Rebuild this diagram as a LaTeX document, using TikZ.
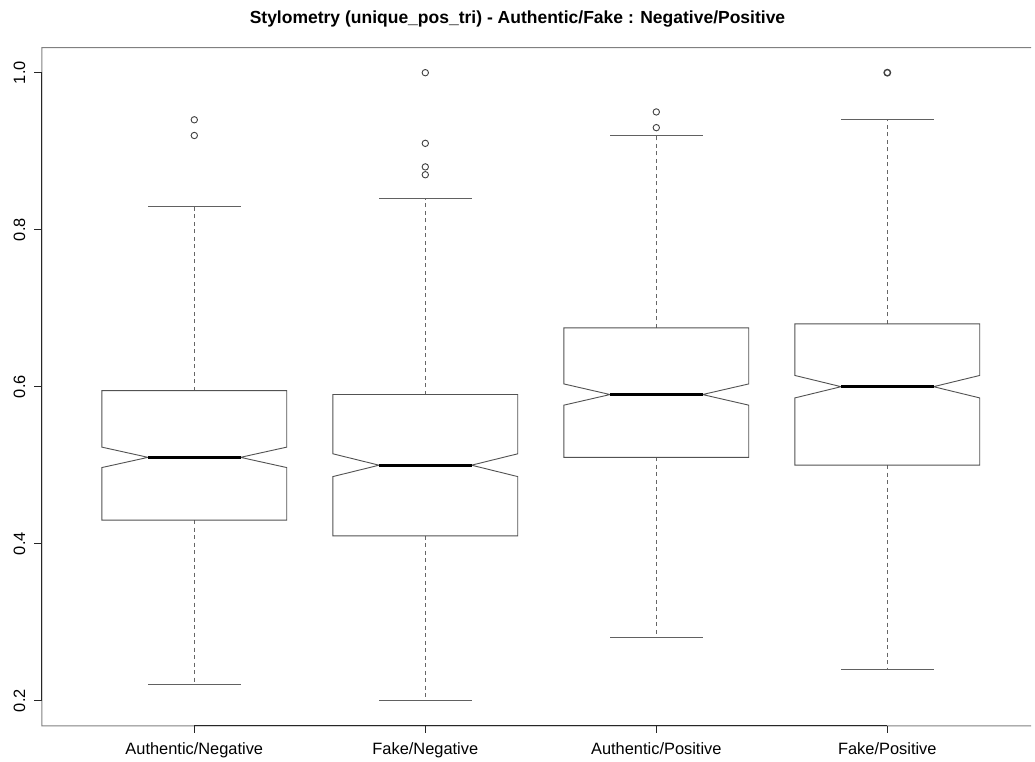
\documentclass[tikz,border=0pt]{standalone}
\usepackage{fontspec}
\setmainfont{Liberation Sans}
\begin{document}
\begin{tikzpicture}[
  boxline/.style={draw=black!68, line width=0.9pt, line join=miter},
  whisk/.style={draw=black!60, line width=0.9pt, dash pattern=on 4pt off 3.5pt},
  capline/.style={draw=black!62, line width=1pt},
  medline/.style={draw=black, line width=2.8pt},
  outl/.style={draw=black!75, line width=0.9pt},
  framel/.style={draw=black!50, line width=1pt},
  axisl/.style={draw=black!85, line width=1pt},
  ticklab/.style={font=\fontsize{16.4}{18}\selectfont, inner sep=0pt},
  titlelab/.style={font=\fontsize{17.5}{20}\selectfont\bfseries, inner sep=0pt}
]
\useasboundingbox (0pt,0pt) rectangle (1035pt,762pt);
\fill[white] (0pt,0pt) rectangle (1035pt,762pt);
\node[titlelab, anchor=base] (title) at (517.5pt,738pt) {Stylometry (unique\_pos\_tri) - Authentic/Fake : Negative/Positive};
\coordinate (frTR) at (1031pt,714.4pt);
\coordinate (frBR) at (1031pt,36.2pt);
\begin{scope}[x=231pt, y=785pt, xshift=-36.7pt, yshift=-95.7pt]
  % frame (its right side lies outside the picture)
  \draw[framel] (frTR) -- (0.34,1.032) -- (0.34,0.168) -- (frBR);
  % axes
  \draw[axisl] (0.34,0.2) -- (0.34,1.0);
  \draw[axisl] (1,0.168) -- (4,0.168);
  \foreach \v/\t in {0.2/0.2,0.4/0.4,0.6/0.6,0.8/0.8,1.0/1.0} {
    \draw[axisl] (0.34,\v) -- ++(-7.5pt,0);
    \node[ticklab, rotate=90, anchor=base] (ylab\t) at ([xshift=-16.8pt]0.34,\v) {\t};
  }
  \foreach \i in {1,2,3,4} {
    \draw[axisl] (\i,0.168) -- ++(0,-7.5pt);
  }
  \node[ticklab, anchor=base] (xlab1) at ([yshift=-29pt]1,0.168) {Authentic/Negative};
  \node[ticklab, anchor=base] (xlab2) at ([yshift=-29pt]2,0.168) {Fake/Negative};
  \node[ticklab, anchor=base] (xlab3) at ([yshift=-29pt]3,0.168) {Authentic/Positive};
  \node[ticklab, anchor=base] (xlab4) at ([yshift=-29pt]4,0.168) {Fake/Positive};
  % boxes: c / lo / q1 / med / notch / q3 / hi
  \foreach \c/\lo/\qa/\m/\n/\qc/\hi in {1/0.22/0.43/0.51/0.013/0.595/0.83,
                                        2/0.20/0.41/0.50/0.0145/0.59/0.84,
                                        3/0.28/0.51/0.59/0.0135/0.675/0.92,
                                        4/0.24/0.50/0.60/0.0143/0.68/0.94} {
    \draw[whisk] (\c,\qc) -- (\c,\hi);
    \draw[whisk] (\c,\qa) -- (\c,\lo);
    \draw[capline] (\c-0.2,\hi) -- (\c+0.2,\hi);
    \draw[capline] (\c-0.2,\lo) -- (\c+0.2,\lo);
    \draw[boxline] (\c-0.4,\qa) -- (\c-0.4,\m-\n) -- (\c-0.2,\m) -- (\c-0.4,\m+\n) -- (\c-0.4,\qc)
       -- (\c+0.4,\qc) -- (\c+0.4,\m+\n) -- (\c+0.2,\m) -- (\c+0.4,\m-\n) -- (\c+0.4,\qa) -- cycle;
    \draw[medline] (\c-0.2,\m) -- (\c+0.2,\m);
  }
  % outliers
  \foreach \c/\v in {1/0.94,1/0.92,2/1.0,2/0.91,2/0.88,2/0.87,3/0.95,3/0.93} {
    \draw[outl] (\c,\v) circle[radius=3.2pt];
  }
  \draw[outl, line width=1.4pt] (4,1.0) circle[radius=3.2pt];
\end{scope}
\end{tikzpicture}
\end{document}
